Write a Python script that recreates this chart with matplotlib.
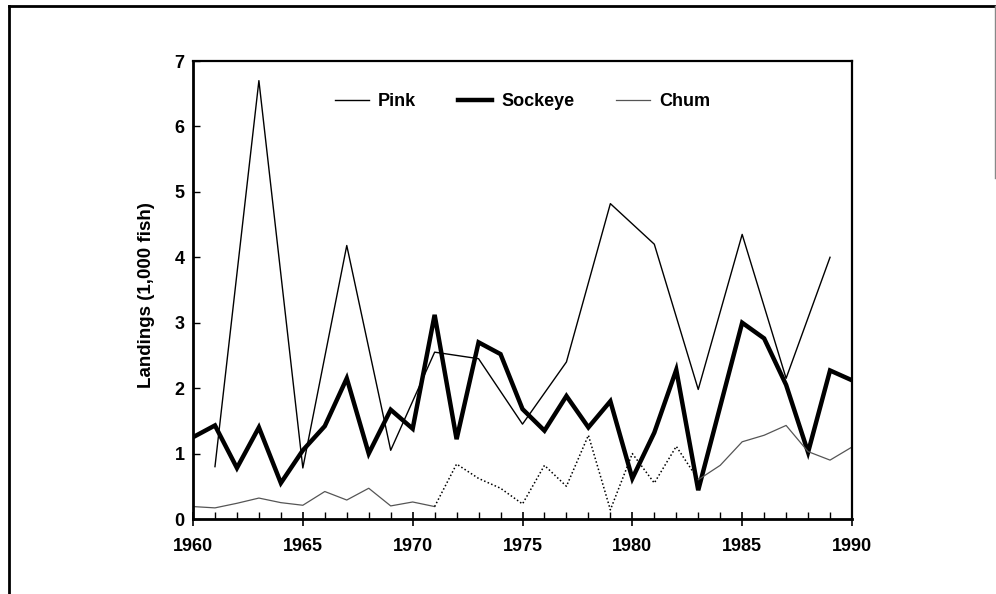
import matplotlib
matplotlib.use("Agg")
import matplotlib.pyplot as plt
from matplotlib.lines import Line2D
import numpy as np

plt.rcParams['font.family'] = ['Liberation Sans', 'DejaVu Sans']
plt.rcParams['font.weight'] = 'bold'

years = list(range(1960, 1991))
pink_years = list(range(1961, 1990, 2))
pink = [0.8, 6.7, 0.78, 4.18, 1.05, 2.55, 2.45, 1.45, 2.4, 4.82, 4.2, 1.98, 4.35, 2.15, 4.0]
sockeye = [1.25, 1.43, 0.78, 1.4, 0.55, 1.05, 1.42, 2.15, 1.0, 1.67,
           1.38, 3.12, 1.22, 2.7, 2.52, 1.68, 1.35, 1.88, 1.4, 1.8,
           0.62, 1.32, 2.28, 0.44, 1.72, 3.0, 2.76, 2.05, 1.02, 2.27, 2.12]
chum = [0.19, 0.17, 0.24, 0.32, 0.25, 0.21, 0.42, 0.29, 0.47, 0.2,
        0.26, 0.19, 0.84, 0.62, 0.47, 0.23, 0.82, 0.5, 1.28, 0.14,
        1.0, 0.55, 1.11, 0.6, 0.82, 1.18, 1.28, 1.43, 1.03, 0.9, 1.1]
chum_dotted_span = (1971, 1983)

x_ticks = [1960, 1965, 1970, 1975, 1980, 1985, 1990]
y_ticks = [0, 1, 2, 3, 4, 5, 6, 7]

fig = plt.figure(figsize=(9.96, 5.94), dpi=100)
ax = fig.add_axes([193/996, 1-519/594, (852-193)/996, (519-61)/594])

ax.plot(pink_years, pink, color='black', lw=1.0, label='Pink')
ax.plot(years, sockeye, color='black', lw=3.2, label='Sockeye', solid_joinstyle='miter')

yrs = np.array(years)
ch = np.array(chum)
a, b = chum_dotted_span
m1 = yrs <= a
m2 = (yrs >= a) & (yrs <= b)
m3 = yrs >= b
ax.plot(yrs[m1], ch[m1], color='#555555', lw=0.9)
ax.plot(yrs[m2], ch[m2], color='black', lw=1.1, ls=(0, (1, 1.5)))
ax.plot(yrs[m3], ch[m3], color='#555555', lw=0.9)

ax.set_xlim(1960, 1990)
ax.set_ylim(0, 7)
ax.set_xticks(x_ticks)
ax.set_xticks(years, minor=True)
ax.set_yticks(y_ticks)
ax.tick_params(axis='x', which='major', direction='inout', length=10, width=1.2,
               labelsize=13, pad=9)
ax.tick_params(axis='x', which='minor', direction='in', length=5, width=1.0)
ax.tick_params(axis='y', which='major', direction='in', length=5, width=1.0,
               labelsize=13, pad=6)
for lab in ax.get_xticklabels() + ax.get_yticklabels():
    lab.set_fontweight('bold')

for s in ['left', 'bottom']:
    ax.spines[s].set_linewidth(2.0)
for s in ['top', 'right']:
    ax.spines[s].set_linewidth(1.6)

ax.set_ylabel('Landings (1,000 fish)', fontsize=13.5, fontweight='bold')
ax.yaxis.set_label_coords(-0.058, 0.49)

handles = [Line2D([], [], color='black', lw=1.0),
           Line2D([], [], color='black', lw=3.2),
           Line2D([], [], color='#555555', lw=0.9)]
leg = ax.legend(handles, ['Pink', 'Sockeye', 'Chum'], loc='upper center',
                bbox_to_anchor=(0.5, 0.965), ncol=3, frameon=False,
                handlelength=1.9, columnspacing=2.3, handletextpad=0.5,
                prop={'weight': 'bold', 'size': 13})

# outer figure frame (partial, as in the scan)
fig.add_artist(Line2D([9/996, 995/996], [1-6/594, 1-6/594], transform=fig.transFigure,
                      color='black', lw=2.0))
fig.add_artist(Line2D([9/996, 9/996], [1-6/594, 0], transform=fig.transFigure,
                      color='black', lw=2.0))
fig.add_artist(Line2D([995/996, 995/996], [1-6/594, 1-178/594], transform=fig.transFigure,
                      color='#888888', lw=1.0))

fig.savefig('out.png', dpi=100)
